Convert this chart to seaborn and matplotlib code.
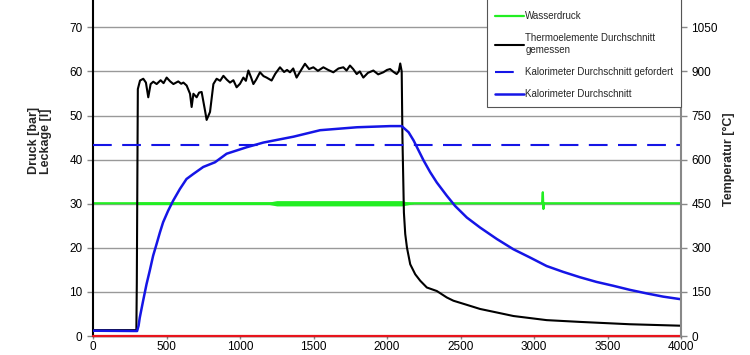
import numpy as np
import pandas as pd
import matplotlib
matplotlib.use("Agg")
import matplotlib.pyplot as plt
import seaborn as sns

sns.set_theme(style="white")
plt.rcParams['font.family'] = ['Liberation Sans', 'DejaVu Sans']

# Daten
# Leckage [l]
leck_t = [0, 4000]
leck_v = [0, 0]

# Wasserdruck [bar]
wasser_t = [0, 3055, 3060, 3064, 3068, 4000]
wasser_v = [30.1, 30.1, 32.6, 28.8, 30.1, 30.1]
# Streuband des Wasserdrucks
band_t = [300, 1200, 1250, 2100, 2180]
band_lo = [29.8, 29.8, 29.5, 29.5, 30.0]
band_hi = [30.4, 30.4, 30.7, 30.7, 30.1]

# Thermoelemente Durchschnitt gemessen [°C]
thermo_t = [0, 295, 298, 305, 320, 342, 360, 376, 392, 410, 433, 460, 480, 501, 525, 547,
            580, 600, 615, 637, 660, 671, 683, 705, 722, 739, 762, 773, 796, 819, 841,
            865, 887, 910, 932, 955, 977, 1000, 1023, 1040, 1057, 1075, 1091, 1110, 1136,
            1160, 1181, 1215, 1240, 1272, 1300, 1320, 1340, 1362, 1385, 1410, 1442, 1470,
            1499, 1530, 1567, 1600, 1635, 1670, 1703, 1725, 1748, 1770, 1794, 1815, 1839,
            1870, 1907, 1940, 1975, 2000, 2021, 2045, 2066, 2080, 2090, 2100, 2105, 2115,
            2124, 2136, 2158, 2192, 2226, 2271, 2339, 2407, 2452, 2543, 2633, 2747, 2860,
            3086, 3312, 3652, 4000]
thermo_v = [20, 20, 180, 840, 869, 875, 862, 812, 857, 865, 857, 870, 860, 879, 866, 857,
            866, 858, 862, 852, 824, 779, 824, 812, 828, 830, 767, 735, 762, 857, 875,
            868, 885, 872, 862, 870, 846, 858, 879, 868, 903, 880, 857, 872, 897,
            884, 879, 869, 892, 914, 898, 905, 897, 910, 879, 900, 926, 908,
            914, 902, 914, 905, 897, 910, 914, 903, 920, 908, 891, 900, 879,
            895, 903, 890, 897, 905, 908, 898, 891, 900, 927, 900, 675, 420,
            347, 300, 244, 210, 188, 165, 153, 131, 120, 106, 92, 80, 68,
            54, 48, 40, 35]

# Kalorimeter Durchschnitt gefordert [°C]
kal_soll_t = [0, 4000]
kal_soll_v = [650, 650]

# Kalorimeter Durchschnitt [°C]
kal_t = [0, 300, 310, 318, 341, 364, 386, 409, 432, 455, 477, 511, 545, 591, 636, 682,
         750, 830, 909, 1045, 1159, 1364, 1545, 1795, 2023, 2100, 2147, 2181, 2215, 2249,
         2294, 2339, 2407, 2464, 2543, 2633, 2747, 2860, 2973, 3086, 3199, 3312, 3425,
         3538, 3652, 3765, 3878, 4000]
kal_v = [18, 17, 35, 62, 120, 176, 222, 273, 312, 352, 387, 426, 460, 500, 534, 551,
         575, 591, 620, 642, 658, 678, 700, 710, 714, 714, 693, 665, 631, 597,
         557, 522, 477, 442, 403, 369, 330, 295, 267, 238, 218, 200, 184,
         171, 157, 145, 134, 125]

fig = plt.figure(figsize=(7.5, 3.55), dpi=100)
ax = fig.add_axes([0.124, 0.0535, 0.784, 0.9938])
ax2 = ax.twinx()

ax.fill_between(band_t, band_lo, band_hi, color="#22ee22", lw=0)
sns.lineplot(x=leck_t, y=leck_v, ax=ax, color="#e8141c", lw=1.6, label="Leckage",
             zorder=5, clip_on=False)
sns.lineplot(x=wasser_t, y=wasser_v, ax=ax, color="#22ee22", lw=1.6, label="Wasserdruck")

sns.lineplot(x=thermo_t, y=thermo_v, ax=ax2, color="black", lw=1.5,
             label="Thermoelemente Durchschnitt\ngemessen")
sns.lineplot(x=kal_soll_t, y=kal_soll_v, ax=ax2, color="#1515e6", lw=1.5,
             dashes=(9, 5), label="Kalorimeter Durchschnitt gefordert")
sns.lineplot(x=kal_t, y=kal_v, ax=ax2, color="#1515e6", lw=1.8,
             label="Kalorimeter Durchschnitt")

ax.set_xlim(0, 4000)
ax.set_ylim(0, 80)
ax2.set_ylim(0, 1200)
ax.set_xticks(range(0, 4001, 500))
ax.set_yticks(range(0, 71, 10))
ax2.set_yticks(range(0, 1051, 150))

ax.grid(axis="y", color="#999999", lw=1)
ax.grid(axis="x", visible=False)
ax2.grid(False)

for a in (ax, ax2):
    a.tick_params(labelsize=8.5, colors="black", length=4, width=1, direction="out")
    for s in a.spines.values():
        s.set_visible(False)
ax.tick_params(axis="both", color="#888888")
ax.tick_params(axis="x", length=2, pad=1.5)
ax2.tick_params(axis="y", color="#888888")
ax.yaxis.set_ticks_position("left")
ax.xaxis.set_ticks_position("bottom")
ax.spines["left"].set_visible(True)
ax.spines["left"].set_color("black")
ax.spines["left"].set_linewidth(1.5)
ax.spines["bottom"].set_visible(True)
ax.spines["bottom"].set_color("black")
ax.spines["bottom"].set_linewidth(1.0)
ax2.spines["right"].set_visible(True)
ax2.spines["right"].set_color("#888888")
ax2.spines["right"].set_linewidth(1.5)

ax.set_xlabel("")
ax.set_ylabel("Druck [bar]\nLeckage [l]", fontsize=9, fontweight="bold", linespacing=1.0)
ax.yaxis.set_label_coords(-0.07, 0.553)
ax2.set_ylabel("Temperatur [°C]", fontsize=9, fontweight="bold")
ax2.yaxis.set_label_coords(1.072, 0.502)

h1, l1 = ax.get_legend_handles_labels()
h2, l2 = ax2.get_legend_handles_labels()
ax.get_legend().remove()
leg = ax2.legend(h1 + h2, l1 + l2, loc="lower left", bbox_to_anchor=(0.67, 0.649),
                 fontsize=7, handlelength=3.0, handletextpad=0.15, labelspacing=1.25,
                 borderpad=0.8, fancybox=False, framealpha=1, edgecolor="#555555",
                 borderaxespad=0)
leg.get_frame().set_linewidth(0.8)

fig.savefig("out.png", dpi=100)
